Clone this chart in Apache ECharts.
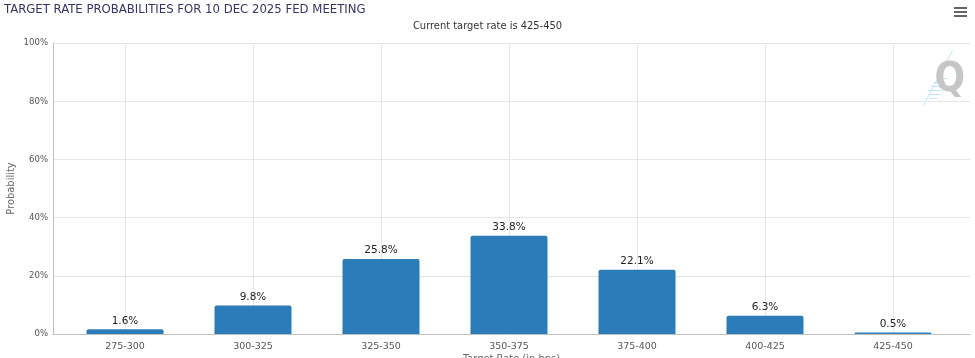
<!DOCTYPE html>
<html><head><meta charset="utf-8">
<script src="https://cdn.jsdelivr.net/npm/echarts@6/dist/echarts.min.js"></script>
<style>html,body{margin:0;padding:0;background:#fff}#c{width:975px;height:358px}</style>
</head><body><div id="c"></div>
<script>
const categories = ['275-300','300-325','325-350','350-375','375-400','400-425','425-450'];
const probabilities = [1.6, 9.8, 25.8, 33.8, 22.1, 6.3, 0.5];
const yTicks = [0, 20, 40, 60, 80, 100];

const F = 'DejaVu Sans';
const FC = '"DejaVu Sans Condensed", "DejaVu Sans"';
const GRID_TOP = 43, GRID_BOTTOM = 24;
const chart = echarts.init(document.getElementById('c'));
chart.setOption({
  animation: false,
  title: [
    {text: 'TARGET RATE PROBABILITIES FOR 10 DEC 2025 FED MEETING', left: 4, top: 3, padding: 0,
     textStyle: {fontFamily: FC, fontSize: 13, fontWeight: 'normal', color: '#333366'}},
    {text: 'Current target rate is 425-450', left: 'center', top: 21, padding: 0,
     textStyle: {fontFamily: FC, fontSize: 11, fontWeight: 'normal', color: '#333333'}}
  ],
  grid: [
    {left: 53, right: 5, top: GRID_TOP, bottom: GRID_BOTTOM, containLabel: false, outerBoundsMode: 'none'},
    {left: 61, right: 18, top: GRID_TOP, bottom: GRID_BOTTOM, containLabel: false, outerBoundsMode: 'none'}
  ],
  xAxis: [
    {gridIndex: 0, type: 'value', min: 0, max: 1,
     name: 'Target Rate (in bps)', nameLocation: 'middle', nameGap: 20,
     nameTextStyle: {fontFamily: FC, fontSize: 11, color: '#666', verticalAlign: 'top'},
     axisLine: {show: true, lineStyle: {color: '#c0c0c0'}},
     axisTick: {show: false}, axisLabel: {show: false}, splitLine: {show: false}},
    {gridIndex: 1, type: 'category', data: categories,
     axisLine: {show: false},
     axisTick: {alignWithLabel: true, length: 5, lineStyle: {color: '#c8c8c8'}},
     axisLabel: {fontFamily: F, fontSize: 9.5, color: '#555', margin: 8},
     splitLine: {show: false}}
  ],
  yAxis: [
    {gridIndex: 0, type: 'value', min: 0, max: 100, interval: 20,
     name: 'Probability', nameLocation: 'middle', nameGap: 36, nameMoveOverlap: false,
     nameTextStyle: {fontFamily: FC, fontSize: 11, color: '#666'},
     axisLine: {show: true, lineStyle: {color: '#c0c0c0'}},
     axisTick: {show: false},
     axisLabel: {fontFamily: FC, fontSize: 9.5, color: '#555', margin: 5,
       formatter: v => yTicks.includes(v) ? v + '%' : ''},
     splitLine: {lineStyle: {color: '#e6e6e6'}}},
    {gridIndex: 1, type: 'value', min: 0, max: 100, interval: 20, show: false, splitLine: {show: false}}
  ],
  series: [
    {type: 'line', data: [], xAxisIndex: 1, yAxisIndex: 1, z: 1, silent: true,
     markLine: {silent: true, symbol: 'none', label: {show: false},
       lineStyle: {color: '#e6e6e6', type: 'solid', width: 1},
       data: categories.map(c => [{xAxis: c, yAxis: 0}, {xAxis: c, yAxis: 100}])}},
    {type: 'bar', data: probabilities, barWidth: 77, xAxisIndex: 1, yAxisIndex: 1, zlevel: 1, z: 3,
     itemStyle: {color: '#2b7cb9', borderRadius: [2,2,0,0]},
     label: {show: true, position: 'top', distance: 3, fontFamily: F, fontSize: 10.5, color: '#222',
       formatter: p => p.value.toFixed(1) + '%'}}
  ],
  graphic: [
    {type: 'group', left: 954, top: 7, children: [
      {type: 'rect', shape: {x: 0, y: 0, width: 13, height: 2}, style: {fill: '#666'}},
      {type: 'rect', shape: {x: 0, y: 4, width: 13, height: 2}, style: {fill: '#666'}},
      {type: 'rect', shape: {x: 0, y: 8, width: 13, height: 2}, style: {fill: '#666'}}
    ]},
    {type: 'group', left: 921, top: 48, silent: true, children: [
      {type: 'line', shape: {x1: 31, y1: 0, x2: 2, y2: 55}, style: {stroke: '#bfe3f6', lineWidth: 1}},
      {type: 'line', shape: {x1: 16, y1: 28, x2: 26, y2: 28}, style: {stroke: '#bfe3f6', lineWidth: 1}},
      {type: 'line', shape: {x1: 12, y1: 32, x2: 24, y2: 32}, style: {stroke: '#bfe3f6', lineWidth: 1}},
      {type: 'line', shape: {x1: 9, y1: 36, x2: 22, y2: 36}, style: {stroke: '#bfe3f6', lineWidth: 1}},
      {type: 'line', shape: {x1: 6, y1: 40, x2: 20, y2: 40}, style: {stroke: '#bfe3f6', lineWidth: 1}},
      {type: 'line', shape: {x1: 7, y1: 44, x2: 18, y2: 44}, style: {stroke: '#bfe3f6', lineWidth: 1}},
      {type: 'line', shape: {x1: 8, y1: 48, x2: 16, y2: 48}, style: {stroke: '#bfe3f6', lineWidth: 1}},
      {type: 'text', style: {text: 'Q', x: 13, y: 10, fontFamily: FC, fontSize: 40, fontWeight: 'bold', fill: '#c6c6c6'}}
    ]}
  ]
});
</script></body></html>
